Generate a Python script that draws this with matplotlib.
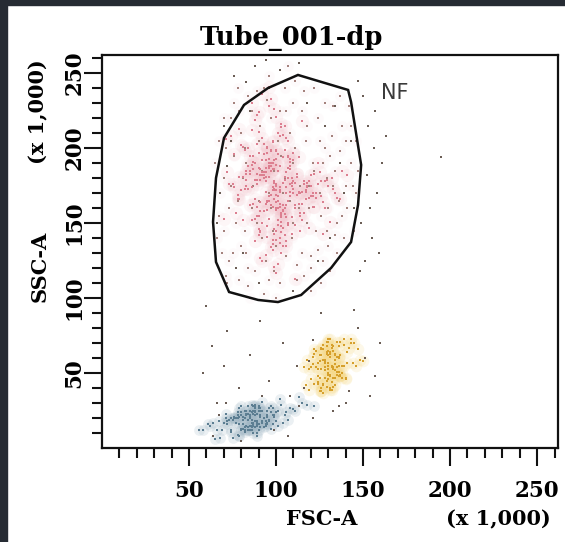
import matplotlib
matplotlib.use("Agg")
import matplotlib.pyplot as plt
from matplotlib.patches import Polygon, Rectangle

# gate "NF" vertices (FSC-A, SSC-A in x 1,000)
gate_x = [112.6, 141.4, 143.1, 147.7, 148.9, 147.1, 143.1, 131.6, 114.4, 101.1,
          89.7, 73.0, 65.5, 63.8, 65.5, 70.1, 81.6, 95.4]
gate_y = [248.7, 238.7, 230.7, 197.3, 188.7, 162.0, 137.3, 120.0, 102.0, 97.3,
          98.7, 104.0, 124.0, 150.7, 180.0, 206.7, 228.7, 240.0]

# main population (pink core inside gate)
pink_x = [98, 104, 87, 112, 95, 101, 79, 108, 92, 118, 100, 85, 106, 97, 123, 90, 103, 110, 83, 99,
          94, 107, 115, 88, 102, 96, 126, 81, 105, 99, 91, 113, 76, 100, 109, 93, 120, 86, 103, 97,
          101, 89, 111, 95, 132, 84, 104, 98, 117, 92, 72, 106, 100, 88, 114, 96, 128, 102, 80, 108,
          97, 121, 91, 105, 99, 86, 110, 94, 138, 103, 90, 116, 78, 100, 107, 95, 124, 89, 101, 112,
          93, 106, 84, 99, 119, 102, 87, 109, 96, 130, 82, 104, 98, 115, 91, 74, 108, 100, 122, 94,
          100, 88, 113, 97, 105, 83, 127, 95, 110, 92, 101, 118, 86, 103, 96, 135, 90, 107, 99, 79,
          104, 96, 89, 111, 98, 121, 85, 102, 94, 108, 77, 100, 116, 91, 105, 97, 129, 87, 103, 110,
          95, 99, 107, 82, 114, 101, 92, 125, 97, 88, 106, 100, 71, 112, 94, 103, 119, 90, 98, 141,
          102, 86, 109, 95, 100, 117, 91, 104, 81, 98, 123, 93, 107, 99, 85, 111, 96, 133, 101, 89,
          97, 113, 90, 105, 84, 100, 120, 94, 108, 76, 103, 96, 115, 88, 101, 126, 92, 106, 99, 83,
          109, 95, 101, 87, 118, 98, 104, 80, 111, 93, 100, 131, 89, 106, 97, 114, 91, 102, 73, 107,
          99, 122, 94, 103, 86, 110, 96, 137, 100, 90, 105, 78, 116, 98, 92, 108, 101, 124, 87, 104,
          96, 112, 83, 100, 107, 93, 119, 102, 89, 128, 97, 104, 75, 110, 95, 101, 115, 91, 106, 99,
          88, 103, 98, 117, 92, 105, 81, 100, 113, 96, 134, 90, 107, 99, 85, 111, 94, 121, 102, 97,
          105, 91, 100, 127, 87, 109, 96, 102, 79, 114, 98, 106, 93, 120, 89, 103, 70, 108, 100, 95]
pink_y = [172, 158, 195, 183, 141, 210, 166, 188, 150, 177, 199, 162, 135, 185, 170, 224, 155, 192, 179, 146,
          181, 205, 163, 138, 174, 190, 168, 152, 215, 186, 127, 171, 196, 160, 143, 182, 175, 230, 157, 198,
          165, 176, 149, 201, 180, 188, 159, 132, 172, 207, 184, 154, 169, 219, 145, 193, 178, 161, 202, 186,
          190, 170, 182, 156, 121, 174, 197, 163, 185, 148, 211, 178, 166, 139, 187, 159, 176, 203, 152, 181,
          158, 184, 173, 226, 167, 137, 191, 180, 153, 175, 199, 162, 186, 171, 144, 208, 168, 117, 183, 192,
          176, 153, 194, 169, 142, 185, 164, 200, 178, 236, 160, 174, 189, 130, 181, 167, 155, 195, 172, 213,
          147, 188, 161, 177, 205, 168, 183, 140, 171, 193, 157, 221, 176, 164, 199, 134, 179, 186, 151, 170,
          201, 166, 180, 173, 157, 196, 125, 184, 162, 190, 174, 145, 206, 169, 187, 154, 178, 197, 161, 182,
          163, 212, 175, 148, 189, 171, 158, 194, 181, 136, 167, 203, 150, 177, 185, 162, 241, 173, 196, 155,
          185, 170, 146, 179, 200, 164, 182, 129, 191, 174, 156, 187, 218, 166, 149, 178, 192, 170, 143, 183,
          154, 197, 168, 186, 175, 139, 209, 172, 160, 184, 193, 151, 179, 162, 233, 170, 145, 188, 176, 165,
          192, 161, 178, 214, 152, 173, 187, 166, 198, 142, 181, 169, 157, 204, 184, 171, 123, 190, 163, 177,
          168, 183, 175, 159, 194, 180, 147, 171, 222, 160, 188, 135, 176, 197, 165, 185, 152, 179, 207, 173,
          179, 144, 190, 166, 182, 156, 201, 175, 163, 228, 170, 187, 149, 178, 195, 113, 184, 161, 172, 199,
          160, 186, 172, 143, 191, 177, 165, 208, 181, 155, 174, 138, 196, 168, 183, 216, 153, 176, 189, 164]

# lighter events spread over the whole gate
gate_dots_x = [75, 88, 102, 120, 135, 140, 128, 115, 95, 80, 70, 67, 82, 97, 110, 125, 138, 105, 90, 73,
               85, 112, 130, 143, 118, 100, 78, 66, 92, 122, 133, 108, 86, 76, 99, 115, 126, 141, 137, 119,
               104, 89, 71, 84, 96, 111, 124, 134, 146, 131, 120, 93, 79, 68, 74, 87, 103, 117, 129, 142,
               139, 127, 113, 98, 83, 70, 65, 78, 91, 106, 121, 136, 144, 132, 116, 101, 88, 73, 81, 94,
               109, 123, 135, 147, 128, 110, 97, 82, 69, 77, 90, 105, 119, 131, 140, 126, 112, 96, 84, 72,
               67, 79, 93, 107, 118, 137, 145, 130, 114, 99, 86, 74, 80, 95, 108, 122, 133, 143, 125, 111,
               102, 89, 76, 71, 84, 100, 116, 129, 138, 124, 110, 96, 83, 70, 92, 106, 120, 134, 146, 127]
gate_dots_y = [130, 118, 110, 128, 150, 175, 200, 225, 232, 210, 180, 155, 145, 160, 190, 170, 215, 240, 205, 125,
               100, 112, 135, 190, 150, 135, 165, 140, 185, 240, 228, 210, 225, 195, 118, 130, 155, 160, 198, 175,
               170, 150, 200, 235, 248, 245, 220, 185, 205, 118, 105, 103, 112, 170, 220, 175, 195, 205, 180, 228,
               140, 125, 160, 145, 130, 145, 190, 240, 215, 225, 190, 165, 175, 208, 238, 205, 190, 160, 180, 125,
               140, 145, 130, 185, 230, 230, 220, 200, 130, 150, 165, 180, 160, 195, 205, 110, 122, 112, 120, 110,
               205, 225, 240, 255, 215, 235, 145, 160, 175, 185, 160, 175, 135, 200, 165, 185, 175, 215, 205, 200,
               225, 238, 230, 115, 108, 100, 115, 145, 155, 132, 150, 170, 190, 220, 140, 128, 120, 142, 170, 190]

# scattered events outside the populations (dark dots)
sparse_x = [68, 74, 81, 66, 90, 72, 85, 139, 143, 131, 128, 137, 118, 124, 77, 70, 96, 110, 145, 134,
            150, 153, 156, 152, 158, 149, 155, 161, 151, 157, 148, 154, 163, 147, 159, 195,
            76, 88, 102, 113, 94, 83,
            60, 72, 85, 58, 96, 66, 79, 104, 91, 63, 112, 70,
            116, 121, 142, 151, 147, 157, 136, 119, 154, 113, 160, 145, 126, 108,
            64, 71, 67, 99, 107, 121, 133, 140, 92, 80]
sparse_y = [170, 205, 130, 150, 110, 188, 225, 170, 205, 140, 215, 190, 230, 125, 120, 215, 240, 105, 160, 228,
            235, 215, 200, 182, 170, 150, 140, 190, 125, 225, 118, 160, 208, 245, 130, 194,
            248, 255, 252, 257, 259, 244,
            95, 78, 62, 50, 45, 30, 40, 70, 85, 68, 55, 55,
            40, 72, 38, 60, 80, 48, 28, 58, 35, 28, 70, 92, 90, 35,
            8, 30, 22, 12, 8, 20, 25, 30, 35, 5]

# yellow population
yellow_x = [131, 126, 135, 129, 138, 124, 133, 128, 141, 130, 122, 136, 127, 134, 119, 132, 139, 125, 130, 144,
            128, 133, 121, 137, 130, 126, 142, 131, 124, 135, 129, 117, 136, 132, 127, 146, 130, 123, 138, 134,
            125, 131, 140, 128, 133, 120, 136, 129, 134, 126, 143, 131, 118, 137, 130, 127, 135, 148, 124, 132,
            136, 129, 124, 139, 131, 127, 134, 121, 137, 130, 145, 126, 133, 128, 140, 123, 132, 135, 116, 130,
            134, 127, 132, 125, 138, 130, 122, 136, 129, 141, 126, 133, 131, 119, 137, 128, 150, 134, 125, 130,
            129, 135, 126, 132, 120, 139, 131, 127, 143, 133, 124, 130, 137, 128, 134, 122, 131, 147, 126, 136]
yellow_y = [63, 40, 54, 68, 50, 53, 41, 59, 57, 65, 43, 61, 69, 47, 53, 54, 69, 38, 55, 57,
            47, 68, 56, 48, 57, 38, 67, 73, 48, 49, 64, 42, 60, 39, 66, 55, 53, 65, 55, 63,
            62, 48, 47, 57, 65, 46, 48, 71, 52, 53, 70, 39, 59, 62, 46, 42, 71, 59, 57, 55,
            55, 63, 43, 73, 40, 59, 59, 61, 48, 50, 70, 67, 47, 52, 46, 54, 67, 51, 54, 73,
            62, 43, 69, 47, 47, 62, 66, 51, 41, 64, 62, 54, 61, 39, 71, 54, 58, 42, 58, 49,
            45, 61, 66, 44, 54, 55, 64, 37, 73, 53, 44, 71, 49, 58, 56, 63, 49, 66, 38, 68]

# blue-grey population
blue_x = [85, 78, 92, 81, 88, 74, 96, 83, 90, 70, 87, 99, 79, 86, 93, 76, 84, 102, 89, 72,
          82, 95, 87, 68, 91, 80, 85, 105, 77, 94, 84, 89, 73, 98, 86, 81, 65, 92, 88, 79,
          90, 83, 110, 86, 75, 93, 88, 80, 97, 84, 71, 89, 101, 82, 87, 62, 95, 78, 91, 85,
          77, 100, 86, 92, 81, 107, 88, 74, 94, 83, 89, 113, 79, 96, 85, 69, 90, 87, 103, 82,
          93, 80, 88, 58, 97, 84, 91, 76, 86, 118, 82, 95, 89, 72, 104, 87, 81, 99, 85, 66,
          88, 94, 79, 86, 108, 83, 90, 75, 98, 87, 80, 92, 61, 85, 101, 89, 78, 95, 84, 115,
          84, 91, 76, 89, 82, 97, 86, 71, 93, 80, 88, 106, 83, 64, 90, 85, 96, 79, 87, 122,
          81, 89, 95, 78, 86, 100, 83, 91, 74, 88, 111, 85, 92, 67, 87, 80, 98, 84, 90, 56]
blue_y = [25, 9, 25, 13, 25, 12, 18, 25, 16, 17, 17, 22, 27, 14, 14, 20, 14, 33, 15, 16,
          20, 21, 23, 7, 21, 28, 15, 22, 17, 15, 28, 8, 19, 27, 15, 16, 6, 31, 18, 8,
          16, 22, 26, 24, 7, 20, 28, 12, 28, 12, 23, 17, 15, 25, 16, 15, 16, 20, 25, 20,
          20, 18, 29, 18, 19, 19, 27, 11, 18, 22, 18, 34, 8, 27, 21, 12, 27, 10, 29, 14,
          20, 22, 14, 12, 13, 23, 22, 20, 24, 29, 11, 25, 23, 18, 17, 28, 16, 21, 22, 12,
          29, 16, 21, 12, 27, 22, 12, 19, 22, 23, 22, 17, 16, 20, 25, 10, 22, 22, 14, 30,
          12, 27, 21, 16, 12, 24, 19, 20, 20, 13, 22, 24, 15, 17, 28, 15, 19, 16, 25, 28,
          21, 15, 17, 24, 17, 24, 23, 14, 20, 24, 25, 12, 25, 18, 15, 24, 16, 19, 25, 12]

major_ticks = [50, 100, 150, 200, 250]
minor_ticks = [10, 20, 30, 40, 60, 70, 80, 90, 110, 120, 130, 140, 160, 170, 180, 190,
               210, 220, 230, 240, 260]

W, H = 565, 542
fig = plt.figure(figsize=(W / 100, H / 100), dpi=100)
fig.patch.set_facecolor("white")
# dark frame strips of the screenshot
fig.patches.append(Rectangle((0, 0), 7 / W, 1, transform=fig.transFigure, color="#262b33", zorder=0))
fig.patches.append(Rectangle((0, 1 - 5 / H), 1, 5 / H, transform=fig.transFigure, color="#262b33", zorder=0))

ax = fig.add_axes([102 / W, 1 - 448 / H, 456 / W, 393 / H])
ax.set_xlim(0, 262)
ax.set_ylim(0, 262)

# soft haze around the dense populations
ax.scatter(pink_x, pink_y, s=90, color="#f2bcc6", alpha=0.13, linewidths=0)
ax.scatter(gate_dots_x, gate_dots_y, s=60, color="#f6dde0", alpha=0.12, linewidths=0)
ax.scatter(yellow_x, yellow_y, s=70, color="#f5d57a", alpha=0.16, linewidths=0)
ax.scatter(blue_x, blue_y, s=60, color="#9fb6c4", alpha=0.2, linewidths=0)

ax.scatter(gate_dots_x, gate_dots_y, s=3, marker="s", color="#a5827d", linewidths=0)
ax.scatter(sparse_x, sparse_y, s=3, marker="s", color="#6b5d55", linewidths=0)
ax.scatter(pink_x, pink_y, s=4, marker="s", color="#dc7f90", linewidths=0)
ax.scatter(yellow_x, yellow_y, s=4, marker="s", color="#d6a02c", linewidths=0)
ax.scatter(blue_x, blue_y, s=4, marker="s", color="#5c7e92", linewidths=0)

gate = Polygon(list(zip(gate_x, gate_y)), closed=True, fill=False,
               edgecolor="#111111", linewidth=1.8)
ax.add_patch(gate)
ax.text(160.3, 236.7, "NF", fontsize=15, color="#3a3a3a", ha="left", va="center",
        family="DejaVu Sans")

ax.set_xticks(major_ticks)
ax.set_xticks(minor_ticks, minor=True)
ax.set_yticks(major_ticks)
ax.set_yticks(minor_ticks, minor=True)

ticks_font = {"family": "DejaVu Serif", "weight": "bold", "size": 15.5}
label_font = {"family": "DejaVu Serif", "weight": "bold", "size": 15}
ax.set_xticklabels([str(t) for t in major_ticks], fontdict=ticks_font)
ax.set_yticklabels([str(t) for t in major_ticks], fontdict=ticks_font, rotation=90, va="center")

ax.tick_params(which="major", direction="out", length=13, width=1.5, color="#111111")
ax.tick_params(which="minor", direction="out", length=7.5, width=1.5, color="#111111")
ax.tick_params(axis="x", which="major", pad=10)
ax.tick_params(axis="y", which="major", pad=-1)

for sp in ax.spines.values():
    sp.set_linewidth(1.6)
    sp.set_color("#111111")

fig.text(291 / W, 1 - 38 / H, "Tube_001-dp", ha="center", va="center",
         family="DejaVu Serif", weight="bold", size=18.5)
fig.text(322 / W, 1 - 519 / H, "FSC-A", ha="center", va="center", **label_font)
fig.text(498 / W, 1 - 519 / H, "(x 1,000)", ha="center", va="center", **label_font)
fig.text(40 / W, 1 - 266 / H, "SSC-A", ha="center", va="center", rotation=90, **label_font)
fig.text(38 / W, 1 - 112 / H, "(x 1,000)", ha="center", va="center", rotation=90, **label_font)

fig.savefig("out.png", dpi=100)
